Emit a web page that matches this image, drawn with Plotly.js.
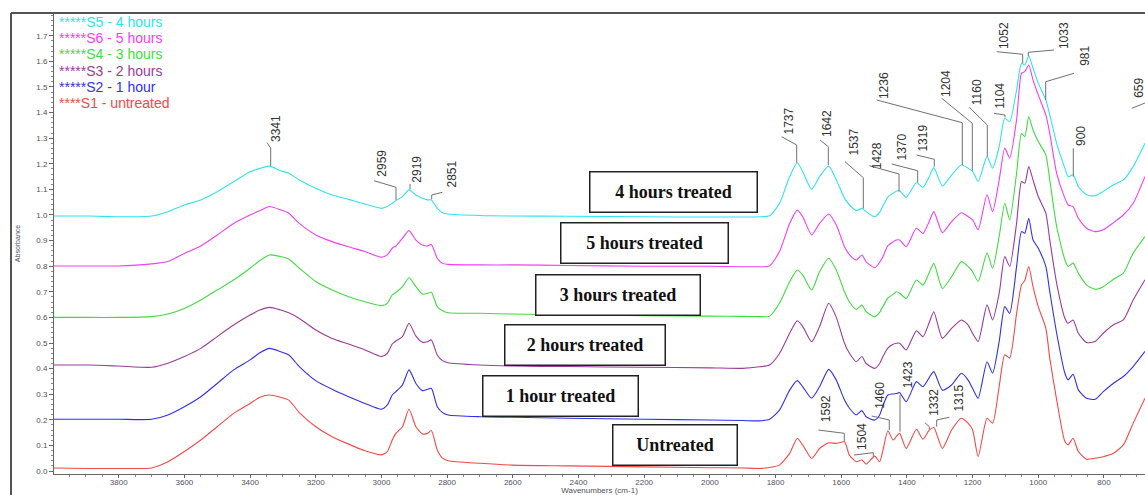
<!DOCTYPE html>
<html><head><meta charset="utf-8">
<script src="https://cdn.plot.ly/plotly-3.0.1.min.js"></script>
<style>html,body{margin:0;padding:0;background:#fff;}#chart{width:1145px;height:495px;}</style>
</head><body><div id="chart"></div>
<script>
// ---------- DATA ----------
const wavenumbers = [4000,3890,3800,3700,3650,3600,3550,3500,3450,3400,3370,3341,3307,3282,3250,3200,3150,3100,3050,3000,2982,2967,2956,2936,2916,2895,2875,2860,2848,2830,2814,2797,2700,2600,2430,2200,2000,1900,1849,1818,1788,1757,1734,1717,1690,1666,1638,1615,1590,1575,1554,1537,1524,1498,1483,1473,1458,1442,1432,1422,1402,1371,1351,1332,1318,1292,1264,1234,1214,1200,1183,1156,1139,1119,1102,1087,1066,1051,1041,1029,1016,1000,977,965,944,919,909,894,878,853,827,802,771,741,711,675];

const s5_4hours = [0.996,0.996,0.993,0.996,1.013,1.039,1.059,1.091,1.130,1.169,
1.182,1.191,1.173,1.163,1.137,1.104,1.078,1.061,1.043,1.026,
1.033,1.046,1.056,1.072,1.098,1.078,1.065,1.059,1.059,1.026,
1.009,1.004,0.998,0.996,0.995,0.993,0.992,0.992,0.993,0.997,
1.045,1.150,1.204,1.169,1.100,1.150,1.191,1.137,1.065,1.040,
1.017,1.026,1.013,0.993,1.010,1.035,1.070,1.085,1.093,1.095,
1.069,1.126,1.108,1.150,1.185,1.113,1.156,1.196,1.183,1.170,
1.131,1.228,1.183,1.267,1.378,1.365,1.489,1.593,1.586,1.622,
1.573,1.515,1.450,1.391,1.280,1.183,1.150,1.157,1.111,1.079,
1.075,1.092,1.118,1.137,1.189,1.280];

const s6_5hours = [0.801,0.801,0.801,0.809,0.818,0.850,0.879,0.922,0.967,1.000,
1.017,1.033,1.020,1.007,0.967,0.922,0.896,0.876,0.857,0.835,
0.844,0.870,0.879,0.909,0.939,0.902,0.883,0.879,0.885,0.831,
0.811,0.807,0.805,0.805,0.803,0.800,0.800,0.798,0.798,0.801,
0.857,0.967,1.019,0.993,0.922,0.967,1.004,0.961,0.876,0.845,
0.824,0.844,0.817,0.794,0.815,0.837,0.880,0.895,0.902,0.902,
0.876,0.948,0.928,0.975,1.013,0.931,0.974,1.009,0.994,0.981,
0.942,1.079,1.013,1.137,1.261,1.222,1.372,1.554,1.560,1.586,
1.528,1.469,1.391,1.319,1.163,1.066,1.039,1.033,0.987,0.948,
0.935,0.942,0.970,1.000,1.046,1.150];

const s4_3hours = [0.600,0.600,0.600,0.603,0.613,0.635,0.668,0.707,0.746,0.792,
0.822,0.844,0.838,0.828,0.792,0.740,0.707,0.681,0.661,0.646,
0.655,0.688,0.697,0.720,0.755,0.720,0.691,0.694,0.698,0.642,
0.626,0.618,0.616,0.613,0.610,0.607,0.605,0.604,0.603,0.605,
0.655,0.739,0.785,0.765,0.707,0.778,0.831,0.785,0.700,0.660,
0.631,0.648,0.622,0.603,0.620,0.642,0.675,0.690,0.700,0.694,
0.674,0.746,0.726,0.775,0.811,0.713,0.759,0.818,0.799,0.779,
0.740,0.851,0.792,0.916,1.046,0.981,1.163,1.319,1.306,1.384,
1.332,1.287,1.235,1.137,0.955,0.825,0.799,0.812,0.773,0.727,
0.710,0.720,0.749,0.773,0.851,0.916];

const s3_2hours = [0.414,0.414,0.410,0.405,0.421,0.447,0.479,0.525,0.570,0.609,
0.629,0.639,0.629,0.618,0.596,0.551,0.518,0.496,0.473,0.447,
0.460,0.496,0.508,0.525,0.577,0.527,0.503,0.505,0.512,0.453,
0.431,0.423,0.414,0.410,0.408,0.405,0.403,0.401,0.407,0.414,
0.459,0.538,0.587,0.564,0.505,0.564,0.655,0.600,0.499,0.460,
0.427,0.447,0.420,0.401,0.420,0.447,0.480,0.495,0.499,0.499,
0.473,0.548,0.525,0.580,0.622,0.518,0.557,0.590,0.571,0.538,
0.506,0.649,0.590,0.694,0.838,0.799,0.968,1.131,1.124,1.189,
1.137,1.072,1.007,0.903,0.733,0.597,0.577,0.590,0.538,0.502,
0.506,0.538,0.571,0.590,0.668,0.747];

const s2_1hour = [0.202,0.202,0.202,0.202,0.219,0.251,0.290,0.342,0.395,0.434,
0.462,0.479,0.466,0.453,0.408,0.353,0.319,0.290,0.264,0.241,
0.258,0.297,0.310,0.336,0.395,0.342,0.314,0.319,0.323,0.251,
0.228,0.219,0.212,0.210,0.206,0.202,0.199,0.197,0.196,0.202,
0.238,0.316,0.353,0.329,0.284,0.329,0.397,0.355,0.277,0.245,
0.219,0.236,0.212,0.199,0.219,0.255,0.297,0.301,0.303,0.306,
0.271,0.349,0.329,0.365,0.388,0.316,0.336,0.382,0.356,0.323,
0.284,0.427,0.382,0.506,0.642,0.616,0.799,0.935,0.929,0.987,
0.903,0.870,0.799,0.701,0.538,0.382,0.356,0.378,0.317,0.284,
0.280,0.310,0.343,0.369,0.408,0.467];

const s1_untreated = [0.012,0.010,0.010,0.012,0.036,0.076,0.121,0.173,0.225,0.264,
0.288,0.297,0.288,0.277,0.228,0.173,0.134,0.105,0.079,0.063,
0.076,0.121,0.147,0.173,0.241,0.173,0.145,0.147,0.158,0.082,
0.050,0.040,0.030,0.023,0.020,0.016,0.013,0.012,0.010,0.014,
0.023,0.069,0.127,0.101,0.049,0.088,0.110,0.108,0.114,0.062,
0.036,0.043,0.027,0.058,0.036,0.080,0.157,0.121,0.135,0.147,
0.088,0.163,0.124,0.160,0.170,0.088,0.160,0.206,0.187,0.161,
0.056,0.206,0.187,0.330,0.454,0.441,0.616,0.727,0.744,0.799,
0.720,0.642,0.558,0.441,0.278,0.115,0.102,0.128,0.076,0.046,
0.050,0.056,0.069,0.102,0.187,0.284];

const seriesNames = ['*****S5 - 4 hours','*****S6 - 5 hours','*****S4 - 3 hours','*****S3 - 2 hours','*****S2 - 1 hour','****S1 - untreated'];
const boxLabels = ['4 hours treated','5 hours treated','3 hours treated','2 hours treated','1 hour treated','Untreated'];
const peakLabels = ['3341','2959','2919','2851','1737','1642','1537','1428','1370','1319','1236','1204','1160','1104','1052','1033','981','900','659','1592','1504','1460','1423','1332','1315'];

// ---------- STYLE / LAYOUT ----------
const seriesValues = [s5_4hours,s6_5hours,s4_3hours,s3_2hours,s2_1hour,s1_untreated];
const colors = ['#2fe3ee','#f43ef4','#3fdc3f','#9a3c9a','#3030ec','#f54848'];
const legendY = [22,38,54,71,87,103];

const PL=54, PT=13, PW=1091, PH=461;
const fx = p => (p-PL)/PW, fy = p => (PT+PH-p)/PH;

// text centre x,y ; leader start ; bend ; tip  (pixels)
const leaderGeom = [
 [276.7,128.3, 267,142.7, 270.7,148, 270.7,166],
 [381.7,163, 374,180.7, 396,187.3, 396,200],
 [416.7,169, 410,184, 410,184, 410,189.3],
 [451,174.5, 442.3,192.3, 431.7,195, 431.7,199.3],
 [788,121.5, 781.7,136.7, 796.7,145, 796.7,162.7],
 [827,124, 820,140, 828.3,146.7, 828.3,165],
 [853,142.5, 845,161.7, 863.3,177.7, 863.3,208.3],
 [877.3,156, 869.3,165.7, 899,174, 899,191.7],
 [901,147.5, 891.7,164, 917.7,170.7, 917.7,182.7],
 [923.3,138.3, 916.7,155, 934.3,159.3, 934.3,166.7],
 [883.3,85.8, 876.7,100, 962.3,122.7, 962.3,165],
 [946.7,83.3, 941.7,98.3, 972.3,123.3, 972.3,170.7],
 [976.7,92.5, 969.3,107.3, 987.3,125, 987.3,156.7],
 [1000,95.8, 994,113.3, 1005,115, 1005,117.3],
 [1003.3,35.8, 996.7,51.7, 1022.7,54.3, 1022.7,63.3],
 [1063.3,35.8, 1054,50, 1028.3,52.3, 1028.3,56],
 [1085,55.8, 1074,73.3, 1045.7,81.7, 1045.7,100],
 [1081.7,136.3, 1073.3,148.3, 1073.3,148.3, 1073.3,176.7],
 [1139,87.8, 1131.7,108.3, 1145,103, 1145,103],
 [826,409.2, 818.3,430, 844.3,433.3, 844.3,441.7],
 [861.7,436.2, 854,455, 873.3,452.7, 873.3,456.7],
 [880,395.8, 871.7,416, 889.3,420, 889.3,430],
 [908.3,375, 900,395, 900,395, 900,431.7],
 [933.3,402.5, 925,422.7, 929.3,426.7, 929.3,429.3],
 [959.3,398.3, 949.3,417.3, 936.7,420, 936.7,426.7]
];
// box centre x, centre y, outer width, outer height (pixels)
const boxGeom = [[673.7,192.5,169,42],[644.7,243.3,169,42],[617.8,294.5,166,42],[584.5,345.3,162,42],[560,395.5,157,42],[674.5,445.2,126,42]];

const traces = seriesValues.map((v,i)=>({
  x: wavenumbers, y: v, type:'scatter', mode:'lines', name: seriesNames[i],
  line:{color:colors[i], width:1.1, shape:'spline', smoothing:0.6}, hoverinfo:'skip'
})).reverse();

const annotations = [];
const shapes = [];
seriesNames.forEach((n,i)=>annotations.push({xref:'paper',yref:'paper',x:fx(57),y:fy(legendY[i]),xanchor:'left',yanchor:'middle',showarrow:false,text:n,font:{family:'Liberation Sans, Arial, sans-serif',size:14,color:colors[i]}}));
peakLabels.forEach((t,i)=>{
  const g = leaderGeom[i];
  annotations.push({xref:'paper',yref:'paper',x:fx(g[0]),y:fy(g[1]),xanchor:'center',yanchor:'middle',showarrow:false,text:t,textangle:-90,font:{family:'Liberation Sans, Arial, sans-serif',size:12,color:'#333'}});
  shapes.push({type:'path',xref:'paper',yref:'paper',path:`M${fx(g[2])},${fy(g[3])} L${fx(g[4])},${fy(g[5])} L${fx(g[6])},${fy(g[7])}`,line:{color:'#707070',width:1}});
});
boxLabels.forEach((t,i)=>{
  const b = boxGeom[i];
  annotations.push({xref:'paper',yref:'paper',x:fx(b[0]),y:fy(b[1]),xanchor:'center',yanchor:'middle',showarrow:false,text:'<b>'+t+'</b>',width:b[2]-5,height:b[3]-5,borderpad:1,borderwidth:1.5,bordercolor:'#222',bgcolor:'#ffffff',align:'center',valign:'middle',font:{family:'Liberation Serif, Times New Roman, serif',size:18,color:'#111'}});
});
// outer frame
shapes.push({type:'line',xref:'paper',yref:'paper',x0:fx(11),y0:fy(13),x1:fx(1146),y1:fy(13),line:{color:'#555',width:2}});
shapes.push({type:'line',xref:'paper',yref:'paper',x0:fx(11),y0:fy(13),x1:fx(11),y1:fy(496),line:{color:'#555',width:2}});

const axisFont = {family:'Liberation Sans, Arial, sans-serif',size:8,color:'#505060'};
const layout = {
  width:1145, height:495,
  margin:{l:PL,r:0,t:PT,b:495-PT-PH,pad:0},
  paper_bgcolor:'#fff', plot_bgcolor:'#fff', showlegend:false,
  xaxis:{range:[3997,675], tickmode:'linear', tick0:0, dtick:200, ticks:'outside', ticklen:3, tickwidth:1, tickcolor:'#666',
    ticklabelstandoff:-3,
    showline:true, linecolor:'#666', linewidth:1, showgrid:false, zeroline:false, tickfont:axisFont,
    minor:{dtick:50, ticks:'outside', ticklen:2, tickcolor:'#888', showgrid:false},
    title:{text:'Wavenumbers (cm-1)', font:{family:'Liberation Sans, Arial, sans-serif',size:8,color:'#505060'}, standoff:1}},
  yaxis:{range:[-0.0117,1.789], tickmode:'linear', tick0:0, dtick:0.1, tickformat:'.1f', ticks:'outside', ticklen:4, tickwidth:1, tickcolor:'#666',
    showline:true, linecolor:'#666', linewidth:1, showgrid:false, zeroline:false, tickfont:axisFont,
    minor:{dtick:0.02, ticks:'outside', ticklen:2, tickcolor:'#888', showgrid:false},
    title:{text:'Absorbance', font:{family:'Liberation Sans, Arial, sans-serif',size:7,color:'#505060'}, standoff:14}},
  annotations: annotations, shapes: shapes, hovermode:false
};
Plotly.newPlot('chart', traces, layout, {staticPlot:true, displayModeBar:false});
</script></body></html>
